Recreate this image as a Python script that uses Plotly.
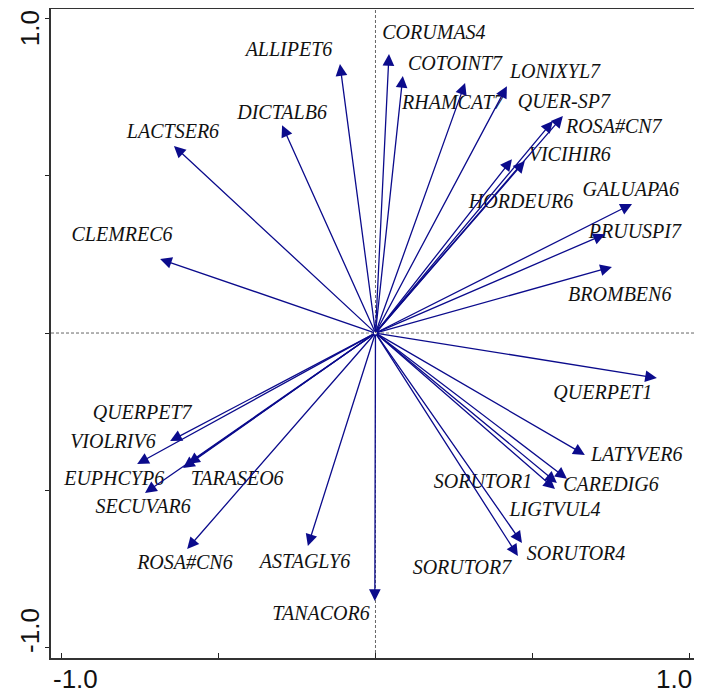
import plotly.graph_objects as go

# species codes, arrow tips (axis units) and label positions
species = ['ALLIPET6', 'CORUMAS4', 'COTOINT7', 'DICTALB6', 'RHAMCAT7', 'LONIXYL7',
           'QUER-SP7', 'ROSA#CN7', 'VICIHIR6', 'HORDEUR6', 'GALUAPA6', 'PRUUSPI7',
           'BROMBEN6', 'QUERPET1', 'LACTSER6', 'CLEMREC6', 'QUERPET7', 'VIOLRIV6',
           'EUPHCYP6', 'TARASEO6', 'SECUVAR6', 'ROSA#CN6', 'ASTAGLY6', 'TANACOR6',
           'LATYVER6', 'CAREDIG6', 'SORUTOR1', 'LIGTVUL4', 'SORUTOR4', 'SORUTOR7']

axis1 = [-0.113, 0.043, 0.087, -0.297, 0.285, 0.418,
         0.596, 0.564, 0.475, 0.434, 0.816, 0.730,
         0.752, 0.895, -0.641, -0.685, -0.653, -0.758,
         -0.733, -0.596, -0.612, -0.599, -0.215, -0.002,
         0.666, 0.609, 0.577, 0.571, 0.466, 0.453]

axis2 = [0.854, 0.886, 0.816, 0.660, 0.794, 0.784,
         0.689, 0.673, 0.546, 0.552, 0.410, 0.314,
         0.210, -0.143, 0.594, 0.235, -0.343, -0.416,
         -0.508, -0.416, -0.429, -0.686, -0.676, -0.851,
         -0.387, -0.463, -0.476, -0.495, -0.667, -0.708]

label_x = [-0.275, 0.186, 0.253, -0.297, 0.246, 0.571,
           0.599, 0.758, 0.618, 0.463, 0.812, 0.825,
           0.777, 0.723, -0.644, -0.806, -0.742, -0.835,
           -0.831, -0.440, -0.739, -0.606, -0.224, -0.173,
           0.831, 0.749, 0.342, 0.571, 0.638, 0.275]

label_y = [0.895, 0.949, 0.851, 0.695, 0.727, 0.825,
           0.730, 0.651, 0.562, 0.413, 0.451, 0.317,
           0.117, -0.194, 0.635, 0.308, -0.257, -0.349,
           -0.467, -0.467, -0.556, -0.733, -0.730, -0.895,
           -0.390, -0.486, -0.476, -0.565, -0.705, -0.749]

tick_vals = [-1.0, -0.5, 0.0, 0.5, 1.0]
# end labels sit a little inside their ticks, as in the original output
end_labels = ['-1.0', '1.0']
x_label_pos = [-0.955, 0.950]
y_label_pos = [-0.946, 0.968]

ARROW = '#0b0b8c'
RANGE = [-1.032, 1.029]
AXFONT = dict(family='Liberation Sans', size=26, color='#111')

fig = go.Figure()

# reference lines through the origin
fig.add_shape(type='line', x0=0, x1=0, y0=RANGE[0], y1=RANGE[1], xref='x', yref='y',
              line=dict(color='#666666', width=1, dash='3px,2px'), layer='below')
fig.add_shape(type='line', x0=RANGE[0], x1=RANGE[1], y0=0, y1=0, xref='x', yref='y',
              line=dict(color='#666666', width=1, dash='3px,2px'), layer='below')

# arrows from the origin
for xe, ye in zip(axis1, axis2):
    fig.add_annotation(x=xe, y=ye, ax=0, ay=0, xref='x', yref='y', axref='x', ayref='y',
                       text='', showarrow=True, arrowhead=2, arrowsize=1.8,
                       arrowwidth=1.3, arrowcolor=ARROW, standoff=0)

# species labels
fig.add_trace(go.Scatter(
    x=label_x, y=label_y, mode='text', text=species,
    textfont=dict(family='Liberation Serif', size=20, color='#111111', style='italic'),
    hoverinfo='skip', showlegend=False
))

# axis end labels
for txt, xv in zip(end_labels, x_label_pos):
    fig.add_annotation(x=xv, y=0, xref='x', yref='paper', yanchor='top', yshift=-4,
                       text=txt, showarrow=False, font=AXFONT)
for txt, yv in zip(end_labels, y_label_pos):
    fig.add_annotation(x=0, y=yv, xref='paper', yref='y', xanchor='right', xshift=-4,
                       text=txt, textangle=-90, showarrow=False, font=AXFONT)

fig.update_xaxes(range=RANGE, tickvals=tick_vals, showticklabels=False, automargin=False,
                 ticks='inside', ticklen=5, tickcolor='#222', showgrid=False, zeroline=False,
                 showline=True, linecolor='#333', linewidth=2, mirror=True)
fig.update_yaxes(range=RANGE, tickvals=tick_vals, showticklabels=False, automargin=False,
                 ticks='outside', ticklen=4, tickcolor='#222', showgrid=False, zeroline=False,
                 showline=True, linecolor='#333', linewidth=2, mirror=True)

# page body adds an 8px offset, so the figure is trimmed to fit the window
fig.update_layout(
    width=694, height=690,
    margin=dict(l=43, r=3, t=1, b=40),
    plot_bgcolor='white', paper_bgcolor='white',
    showlegend=False
)

fig.write_html("out.html")
